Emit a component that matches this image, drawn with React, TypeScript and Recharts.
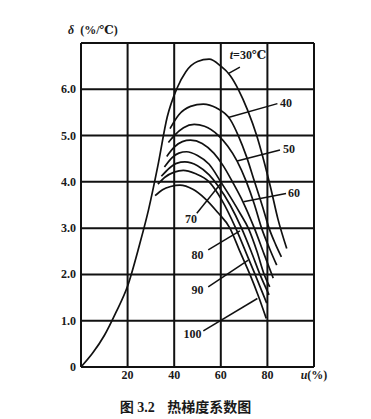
import React from 'react';
import { LineChart, Line, XAxis, YAxis, CartesianGrid, ReferenceLine, ReferenceDot } from 'recharts';

// moisture u (%) vs thermal gradient coefficient δ (%/℃), one curve per temperature
const curve30 = [[0, 0], [5, 0.3], [10, 0.68], [15, 1.18], [20, 1.75], [25, 2.62], [29, 3.4], [33, 4.35], [37, 5.4], [41, 6.0], [45, 6.38], [50, 6.6], [55, 6.65], [60, 6.5], [64, 6.3], [67.5, 6.0], [71.5, 5.55], [75.4, 5.0], [78.5, 4.45], [81.5, 3.85], [84.5, 3.2], [88.3, 2.56]];
const curve40 = [[38.2, 5.15], [42, 5.45], [47, 5.63], [52.5, 5.68], [58, 5.6], [64, 5.35], [67.5, 5.0], [71, 4.55], [74.5, 4.0], [78, 3.45], [80.7, 3.0], [83.5, 2.65], [86, 2.38]];
const curve50 = [[37.5, 4.85], [40, 5.0], [44, 5.17], [48.6, 5.24], [53, 5.2], [59, 5.0], [63, 4.77], [67, 4.45], [71, 4.0], [74.5, 3.5], [77.5, 3.0], [81, 2.55], [84, 2.2]];
const curve60 = [[36.8, 4.55], [40, 4.75], [43.5, 4.87], [47, 4.9], [52, 4.83], [57, 4.62], [61, 4.35], [65, 4.0], [69.5, 3.57], [74.4, 3.0], [78.5, 2.45], [82.5, 1.92]];
const curve70 = [[35.8, 4.32], [39, 4.52], [42, 4.62], [45.3, 4.65], [50, 4.57], [55, 4.38], [60, 4.0], [65, 3.6], [68.5, 3.3], [71.8, 3.0], [75.5, 2.5], [78.6, 2.0], [81, 1.73]];
const curve80 = [[34.5, 4.12], [38, 4.3], [41, 4.4], [44.6, 4.43], [50, 4.35], [55, 4.15], [59, 3.9], [64, 3.5], [68.9, 3.0], [73, 2.5], [76.8, 2.0], [80.7, 1.56]];
const curve90 = [[33, 3.95], [36, 4.1], [40, 4.21], [43.9, 4.25], [49, 4.18], [55, 4.0], [60.5, 3.6], [66.4, 3.0], [71, 2.45], [74.7, 2.0], [79.7, 1.38]];
const curve100 = [[31.8, 3.7], [35, 3.83], [38.5, 3.9], [42.5, 3.93], [48, 3.84], [53, 3.65], [58.5, 3.35], [63.9, 3.0], [68, 2.52], [72.5, 2.0], [76, 1.55], [79.5, 1.05]];

const curves = [curve30, curve40, curve50, curve60, curve70, curve80, curve90, curve100];

const xTicks = [0, 20, 40, 60, 80, 100];
const yTicks = [0, 1, 2, 3, 4, 5, 6, 7];

// curve labels: text, text centre, leader start, leader end (data units)
const labelText = ['30', '40', '50', '60', '70', '80', '90', '100'];
const labelAt = [[71.7, 6.74], [88, 5.7], [89.3, 4.71], [91.4, 3.75], [47.2, 3.2], [50, 2.42], [50, 1.66], [47.9, 0.71]];
const leaderFrom = [[68.2, 6.48], [84.3, 5.69], [85.4, 4.69], [88, 3.75], [49.7, 3.32], [54.6, 2.53], [54.6, 1.73], [52.5, 0.78]];
const leaderTo = [[63.2, 6.34], [63.2, 5.39], [67, 4.45], [69.7, 3.57], [60.1, 3.97], [68.2, 2.94], [71.8, 2.31], [75.7, 1.48]];

const serif = '"Liberation Serif", "DejaVu Serif", serif';

const toRows = (pts: number[][]) => pts.map(([u, d]) => ({ u, d }));

const XTick = (props: any) => {
  const { x, y, payload } = props;
  const v = payload.value;
  if (v === 0) return null;
  return (
    <text x={x} y={y} dy={10} textAnchor="middle" fontFamily={serif} fontSize={12} fontWeight="bold" fill="#1a1a1a">
      {v === 100 ? (
        <>
          <tspan fontStyle="italic">u</tspan>
          <tspan>(%)</tspan>
        </>
      ) : v}
    </text>
  );
};

const YTick = (props: any) => {
  const { x, y, payload } = props;
  const v = payload.value;
  if (v === 7) return null;
  return (
    <text x={x} y={y} dy={4} textAnchor="end" fontFamily={serif} fontSize={12} fontWeight="bold" fill="#1a1a1a">
      {v === 0 ? '0' : v.toFixed(1)}
    </text>
  );
};

const CurveLabel = (props: any) => {
  const { viewBox, text } = props;
  const cx = viewBox.x + (viewBox.width || 0) / 2;
  const cy = viewBox.y + (viewBox.height || 0) / 2;
  return (
    <text x={cx} y={cy} dy={4} textAnchor="middle" fontFamily={serif} fontSize={12} fontWeight="bold" fill="#1a1a1a">
      {text === '30' ? (
        <>
          <tspan fontStyle="italic">t</tspan>
          <tspan>=30℃</tspan>
        </>
      ) : text}
    </text>
  );
};

export default function App() {
  return (
    <div style={{ position: 'absolute', left: 0, top: 0, width: 371, height: 419, background: '#fff' }}>
      <div style={{ position: 'absolute', left: 68, top: 23, fontFamily: serif, fontSize: 12, fontWeight: 'bold', color: '#1a1a1a', whiteSpace: 'nowrap' }}>
        <span style={{ fontStyle: 'italic' }}>δ</span>&nbsp;&nbsp;(%/℃)
      </div>
      <LineChart width={371} height={419} margin={{ top: 43, right: 57, bottom: 32, left: 51 }}>
        <CartesianGrid stroke="#111" strokeWidth={2} horizontalValues={yTicks} verticalValues={xTicks} />
        <XAxis
          type="number"
          dataKey="u"
          domain={[0, 100]}
          ticks={xTicks}
          interval={0}
          height={20}
          tickSize={0}
          tickMargin={2}
          axisLine={{ stroke: '#111', strokeWidth: 2 }}
          tickLine={false}
          tick={<XTick />}
          allowDuplicatedCategory={false}
        />
        <YAxis
          type="number"
          domain={[0, 7]}
          ticks={yTicks}
          interval={0}
          width={30}
          tickSize={3}
          tickMargin={2}
          axisLine={{ stroke: '#111', strokeWidth: 2 }}
          tickLine={false}
          tick={<YTick />}
        />
        {curves.map((c, i) => (
          <Line
            key={labelText[i]}
            data={toRows(c)}
            dataKey="d"
            type="monotone"
            stroke="#111"
            strokeWidth={1.7}
            dot={false}
            activeDot={false}
            isAnimationActive={false}
          />
        ))}
        {labelText.map((t, i) => (
          <ReferenceLine
            key={'l' + t}
            segment={[{ x: leaderFrom[i][0], y: leaderFrom[i][1] }, { x: leaderTo[i][0], y: leaderTo[i][1] }]}
            stroke="#111"
            strokeWidth={1.5}
          />
        ))}
        {labelText.map((t, i) => (
          <ReferenceDot
            key={'t' + t}
            x={labelAt[i][0]}
            y={labelAt[i][1]}
            r={0}
            fill="none"
            stroke="none"
            label={<CurveLabel text={t} />}
          />
        ))}
      </LineChart>
      <div style={{ position: 'absolute', left: 0, top: 396, width: 371, textAlign: 'center', fontSize: 14, fontWeight: 'bold', color: '#1a1a1a', whiteSpace: 'pre' }}>
        <span style={{ fontFamily: serif }}>图 3.2</span>
        <span style={{ fontFamily: '"Noto Sans CJK SC", sans-serif' }}>{'    热梯度系数图'}</span>
      </div>
    </div>
  );
}
